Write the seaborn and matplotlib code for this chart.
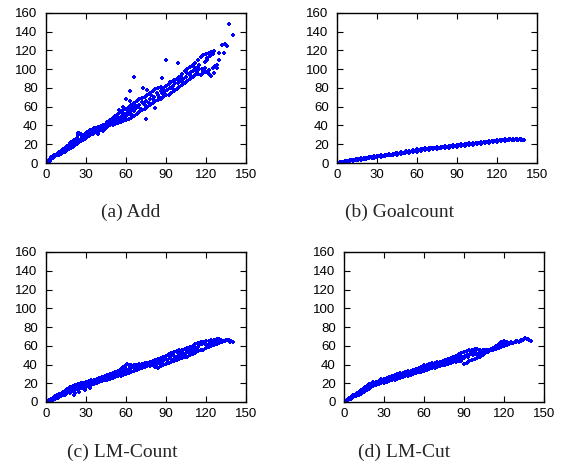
import pandas as pd
import matplotlib
matplotlib.use("Agg")
import matplotlib.pyplot as plt
import seaborn as sns

# Puntos (x, y) para cada heuristica
add_pts = [
    (0, 0), (1, 1), (1, 2), (2, 2), (2, 3), (3, 3), (3, 4), (4, 4), (4, 6), (5, 5), (5, 7),
    (6, 6), (6, 8), (7, 7), (7, 9), (8, 8), (8, 10), (9, 8), (9, 11), (10, 9), (10, 12),
    (11, 10), (11, 13), (12, 11), (12, 14), (13, 12), (13, 15), (14, 12), (14, 16), (15, 13),
    (15, 17), (16, 14), (16, 18), (17, 15), (17, 19), (18, 16), (18, 21), (19, 16), (19, 22),
    (20, 17), (20, 23),
    (21, 24), (22, 25), (23, 27), (24, 30), (25, 32), (26, 31), (24, 32), (27, 29), (28, 30),
    (29, 31), (30, 32), (21, 18), (22, 19), (23, 20), (24, 21), (25, 22), (26, 23), (27, 24),
    (28, 25), (29, 26), (30, 27), (22, 22), (26, 26), (29, 28),
    (31, 33), (32, 34), (33, 35), (34, 34), (35, 36), (36, 35), (37, 37), (38, 36), (39, 38),
    (40, 37), (41, 39), (42, 38), (43, 40), (44, 41), (45, 42), (31, 28), (32, 29), (33, 30),
    (34, 31), (35, 31), (36, 32), (37, 33), (38, 33), (39, 34), (40, 34), (41, 35), (42, 35),
    (43, 36), (44, 36), (45, 37), (35, 33), (40, 36), (44, 39),
    (46, 44), (48, 46), (50, 48), (52, 50), (54, 52), (56, 54), (58, 56), (60, 58), (62, 60),
    (64, 62), (46, 38), (48, 40), (50, 41), (52, 42), (54, 43), (56, 44), (58, 45), (60, 46),
    (62, 47), (64, 48), (47, 42), (49, 45), (51, 44), (53, 47), (55, 48), (57, 50), (59, 52),
    (61, 53), (63, 55), (65, 56), (52, 46), (56, 47), (60, 50), (64, 52), (55, 57), (58, 60),
    (60, 68), (63, 66), (66, 92), (63, 77),
    (66, 64), (68, 66), (70, 68), (72, 69), (74, 70), (76, 72), (78, 75), (80, 77), (82, 79),
    (84, 80), (86, 81), (88, 80), (90, 82), (66, 50), (68, 52), (70, 54), (72, 56), (74, 58),
    (76, 60), (78, 62), (80, 64), (82, 66), (84, 67), (86, 68), (88, 70), (90, 72), (67, 58),
    (70, 62), (73, 64), (75, 66), (78, 68), (81, 70), (84, 73), (87, 75), (89, 77), (73, 80),
    (82, 59), (75, 47), (87, 91), (90, 110), (99, 107), (76, 78),
    (92, 84), (94, 86), (96, 88), (98, 90), (100, 92), (102, 95), (104, 98), (106, 100),
    (108, 102), (110, 104), (112, 107), (114, 110), (92, 73), (94, 75), (96, 77), (98, 79),
    (100, 81), (102, 83), (104, 85), (106, 87), (108, 90), (110, 92), (112, 94), (114, 95),
    (95, 82), (99, 85), (103, 90), (107, 95), (111, 99), (115, 100), (93, 80), (101, 88),
    (109, 97), (113, 101),
    (116, 113), (118, 115), (120, 116), (122, 117), (124, 118), (126, 119), (116, 94),
    (118, 96), (120, 97), (122, 99), (124, 93), (126, 96), (128, 101), (127, 103), (125, 101),
    (130, 110), (130, 117), (133.5, 117), (132, 126), (134.5, 127), (136, 125), (137.5, 148),
    (140, 137), (128, 104), (119, 101), (121, 110),
]
add_extra = [
    (3, 2), (5, 6), (7, 8), (9, 10), (11, 12), (13, 13), (15, 15), (17, 17), (19, 19),
    (21, 21), (23, 23), (25, 25), (27, 27), (18, 19), (14, 14), (10, 11), (6, 7),
    (32, 31), (34, 33), (36, 37), (38, 35), (39, 31), (41, 37), (43, 34), (45, 39), (47, 45),
    (48, 43), (50, 45), (51, 47), (53, 44), (54, 49), (55, 45), (57, 53), (58, 48), (59, 50),
    (61, 56), (62, 52), (63, 58), (65, 59), (66, 55), (67, 62), (69, 60), (71, 58), (72, 65),
    (74, 62), (77, 64), (79, 72), (80, 68), (83, 75), (85, 70), (86, 77), (88, 74), (91, 78),
    (93, 86), (95, 79), (97, 85), (100, 86), (101, 93), (103, 86), (105, 92), (106, 96),
    (108, 94), (110, 98), (111, 102), (113, 97), (115, 105), (117, 100), (119, 108),
    (121, 112), (123, 114), (125, 116), (118, 98), (122, 95),
]

goalcount_pts = [
    (0, 0), (0, 0.5), (2, 0.5), (2, 1), (4, 1), (4, 1.5), (6, 1), (6, 2), (8, 1.5), (8, 2.5),
    (10, 2), (10, 3), (12, 2.5), (12, 3.5), (14, 3), (14, 4), (16, 3), (16, 4.5), (18, 3.5),
    (18, 5), (20, 4), (20, 5), (22, 4.5), (22, 5.5), (24, 5), (24, 6), (26, 5), (26, 6.5),
    (28, 5.5), (28, 7), (30, 6), (30, 7.5), (33, 6.5), (33, 8), (36, 7), (36, 9), (39, 8),
    (39, 9.5), (42, 8.5), (42, 10), (45, 9), (45, 11), (48, 10), (48, 11.5), (51, 10.5),
    (51, 12), (54, 11), (54, 13), (57, 11.5), (57, 13.5), (60, 12), (60, 14.5), (63, 13),
    (63, 15), (66, 13.5), (66, 15.5), (69, 14), (69, 16), (72, 14.5), (72, 16.5), (75, 15),
    (75, 17), (78, 15.5), (78, 17.5), (81, 16), (81, 18), (84, 16.5), (84, 18.5), (87, 17),
    (87, 19), (90, 17.5), (90, 19.5), (93, 18), (93, 20), (96, 18.5), (96, 20.5), (99, 19),
    (99, 21), (102, 19.5), (102, 21), (105, 20), (105, 21.5), (108, 20.5), (108, 22),
    (111, 21), (111, 22.5), (114, 21.5), (114, 23), (117, 22), (117, 23.5), (120, 22.5),
    (120, 24), (123, 23), (123, 25), (126, 23.5), (126, 25.5), (129, 24), (129, 25.5),
    (132, 24), (132, 26), (135, 24), (135, 25.5), (138, 24.5), (138, 25.5), (140, 24),
    (3, 1), (9, 2.5), (15, 3.5), (21, 4.5), (27, 6), (35, 7.5), (41, 9), (47, 10.5),
    (53, 12), (59, 13), (65, 14.5), (71, 15.5), (77, 16.5), (83, 17.5), (89, 18.5),
    (95, 19.5), (101, 20), (107, 21), (113, 22), (119, 23), (125, 24.5), (131, 25),
]
goalcount_extra = [
    (1, 0.5), (5, 1.5), (7, 2), (11, 3), (13, 3), (17, 4), (19, 4.5), (23, 5), (25, 6),
    (29, 6.5), (31, 7), (34, 7.5), (37, 8.5), (38, 8), (40, 9), (43, 9.5), (44, 10.5),
    (46, 10), (49, 11), (50, 11), (52, 12.5), (55, 12), (56, 13), (58, 13), (61, 13.5),
    (62, 14), (64, 14.5), (67, 15), (68, 15), (70, 15.5), (73, 16), (74, 16), (76, 16.5),
    (79, 17), (80, 17.5), (82, 17.5), (85, 18), (86, 18), (88, 18.5), (91, 19), (92, 19),
    (94, 19.5), (97, 20), (98, 20), (100, 20.5), (103, 20.5), (104, 21), (106, 21.5),
    (109, 21.5), (110, 22), (112, 22.5), (115, 22.5), (116, 23), (118, 23), (121, 23.5),
    (122, 24), (124, 24), (127, 24.5), (128, 25), (130, 25.5), (133, 25), (134, 25.5),
    (136, 25), (137, 25.5), (139, 24.5),
]

lmcount_pts = [
    (0, 0), (1, 1), (2, 1), (2, 2), (3, 2), (4, 3), (4, 1), (5, 4), (5, 2), (6, 5), (6, 3),
    (7, 6), (7, 3), (8, 7), (8, 4), (9, 8), (9, 4), (10, 9), (10, 5), (11, 9), (11, 6),
    (12, 10), (12, 7), (13, 11), (13, 7), (14, 12), (14, 8), (15, 13), (15, 9), (16, 14),
    (16, 10), (17, 15), (17, 11), (18, 16), (18, 12), (19, 16), (19, 13), (20, 17), (20, 14),
    (21, 8), (22, 10), (20, 12), (18, 10),
    (22, 18), (24, 19), (26, 20), (28, 20), (30, 21), (32, 22), (34, 23), (36, 24), (38, 25),
    (40, 26), (42, 27), (44, 28), (22, 13), (24, 14), (26, 15), (28, 16), (30, 16), (32, 17),
    (34, 18), (36, 19), (38, 20), (40, 21), (42, 22), (44, 23), (23, 16), (27, 18), (31, 19),
    (35, 21), (39, 23), (43, 25), (25, 11), (29, 13), (33, 15),
    (46, 29), (48, 30), (50, 31), (52, 32), (54, 33), (56, 35), (58, 37), (60, 39), (61, 41),
    (62, 40), (64, 39), (66, 40), (68, 40), (70, 41), (72, 41), (74, 42), (76, 42), (78, 43),
    (80, 44), (82, 45), (84, 46), (86, 47), (88, 48), (90, 49), (46, 24), (48, 25), (50, 26),
    (52, 27), (54, 28), (56, 28), (58, 29), (60, 30), (62, 31), (64, 32), (66, 33), (68, 34),
    (70, 35), (72, 36), (74, 37), (76, 38), (78, 38), (80, 39), (82, 37), (84, 36), (86, 38),
    (88, 40), (90, 41), (47, 27), (51, 29), (55, 31), (59, 33), (63, 35), (67, 36), (71, 38),
    (75, 39), (79, 41), (83, 41), (87, 43), (53, 30), (57, 34), (65, 37), (69, 38),
    (92, 51), (94, 52), (96, 53), (98, 54), (100, 55), (102, 56), (104, 57), (106, 58),
    (108, 59), (110, 60), (112, 62), (114, 63), (116, 64), (118, 64), (120, 65), (122, 65),
    (124, 66), (126, 66), (128, 67), (130, 67), (92, 42), (94, 43), (96, 44), (98, 45),
    (100, 46), (102, 47), (104, 48), (106, 48), (108, 50), (110, 51), (112, 52), (114, 54),
    (116, 55), (118, 56), (120, 58), (122, 59), (124, 60), (126, 61), (128, 62), (130, 63),
    (132, 64), (134, 65), (136, 66), (138, 64), (140, 64), (93, 47), (97, 48), (101, 50),
    (105, 52), (109, 54), (113, 57), (95, 45), (99, 49), (103, 51), (107, 53), (111, 55),
]
lmcount_extra = [
    (3, 1), (5, 3), (7, 5), (9, 6), (11, 8), (13, 9), (15, 11), (17, 13), (19, 15), (21, 15),
    (23, 14), (24, 17), (26, 17), (27, 15), (29, 19), (30, 18), (31, 17), (33, 20), (34, 20),
    (36, 22), (37, 20), (39, 24), (41, 23), (42, 25), (45, 26), (47, 29), (49, 27), (50, 29),
    (52, 29), (54, 31), (55, 33), (57, 30), (58, 32), (60, 35), (61, 34), (63, 37), (64, 38),
    (66, 36), (67, 39), (69, 37), (70, 39), (72, 38), (73, 40), (75, 41), (77, 40), (78, 39),
    (80, 41), (81, 43), (83, 44), (85, 42), (86, 45), (88, 44), (89, 46), (91, 45), (93, 49),
    (95, 50), (97, 46), (99, 52), (100, 49), (102, 53), (104, 51), (106, 55), (108, 56),
    (110, 57), (112, 58), (114, 59), (115, 61), (117, 62), (119, 62), (121, 61), (123, 63),
    (125, 64), (127, 65), (129, 65), (131, 66), (133, 65), (135, 66), (137, 66), (139, 65),
]

lmcut_pts = [
    (0, 0), (1, 1), (2, 2), (3, 3), (4, 4), (5, 5), (6, 6), (7, 7), (8, 8), (9, 9), (10, 10),
    (11, 11), (12, 12), (13, 13), (14, 14), (15, 15), (16, 16), (17, 17), (18, 18), (19, 19),
    (20, 19), (3, 2), (5, 3), (7, 5), (9, 6), (11, 8), (13, 9), (15, 11), (17, 13), (19, 14),
    (12, 10), (16, 13), (18, 15), (20, 16), (22, 17),
    (22, 21), (24, 21), (26, 22), (28, 25), (30, 25), (32, 26), (34, 27), (36, 28), (38, 29),
    (40, 30), (42, 31), (44, 31), (46, 32), (48, 32), (50, 33), (52, 34), (54, 35), (56, 36),
    (58, 37), (60, 39), (24, 18), (26, 19), (28, 20), (30, 20), (32, 21), (34, 22), (36, 23),
    (38, 24), (40, 25), (42, 26), (44, 27), (46, 28), (48, 28), (50, 29), (52, 30), (54, 31),
    (56, 32), (58, 32), (60, 33), (25, 20), (29, 22), (33, 24), (37, 26), (41, 28), (45, 30),
    (49, 31), (53, 32), (57, 34), (31, 23), (35, 25), (39, 27), (43, 29), (47, 30), (51, 31),
    (55, 33), (59, 35),
    (62, 40), (64, 41), (66, 42), (68, 42), (70, 43), (72, 43), (74, 44), (76, 45), (78, 46),
    (80, 47), (82, 48), (84, 49), (86, 51), (88, 52), (90, 53), (92, 54), (94, 55), (96, 56),
    (98, 57), (100, 57), (62, 34), (64, 35), (66, 36), (68, 36), (70, 37), (72, 38), (74, 39),
    (76, 40), (78, 41), (80, 42), (82, 43), (84, 43), (86, 44), (88, 44), (90, 41), (92, 42),
    (94, 44), (96, 45), (98, 46), (100, 47), (63, 37), (67, 39), (71, 40), (75, 42), (79, 44),
    (83, 46), (87, 48), (91, 49), (95, 51), (99, 52), (65, 38), (69, 40), (73, 41), (77, 43),
    (81, 45), (85, 47), (89, 47), (93, 48), (97, 50),
    (102, 56), (104, 55), (106, 56), (108, 55), (110, 57), (112, 58), (114, 60), (116, 62),
    (118, 64), (120, 65), (122, 64), (102, 48), (104, 50), (106, 52), (108, 53), (110, 55),
    (112, 56), (114, 57), (116, 58), (118, 59), (120, 60), (122, 61), (124, 62), (126, 63),
    (128, 64), (130, 65), (132, 65), (134, 66), (136, 68), (137, 67), (138, 67), (140, 65),
    (101, 52), (105, 53), (109, 54), (113, 57), (117, 60), (121, 62), (125, 63), (129, 64),
    (133, 65), (103, 51), (107, 53),
]
lmcut_extra = [
    (2, 1), (4, 3), (6, 5), (8, 7), (10, 8), (12, 11), (14, 12), (16, 15), (18, 16), (20, 18),
    (21, 19), (23, 19), (24, 20), (26, 21), (27, 22), (28, 23), (30, 22), (31, 25), (33, 25),
    (34, 24), (36, 26), (37, 27), (39, 28), (40, 27), (42, 29), (44, 29), (45, 31), (47, 31),
    (48, 33), (50, 31), (52, 32), (53, 34), (55, 34), (56, 35), (58, 36), (60, 36), (61, 37),
    (63, 39), (64, 37), (66, 39), (68, 40), (70, 40), (71, 42), (73, 43), (75, 41), (76, 43),
    (78, 44), (80, 44), (82, 45), (84, 47), (85, 45), (87, 46), (88, 49), (90, 47), (92, 50),
    (94, 50), (95, 53), (97, 53), (99, 55), (100, 50), (102, 53), (103, 54), (105, 55),
    (107, 55), (109, 56), (111, 57), (113, 59), (115, 59), (117, 61), (119, 62), (121, 63),
    (123, 62), (125, 64), (127, 63), (129, 65), (131, 64), (133, 66), (135, 67), (139, 66),
]

captions = ["(a) Add", "(b) Goalcount", "(c) LM-Count", "(d) LM-Cut"]
x_ticks = [0, 30, 60, 90, 120, 150]
y_ticks = [0, 20, 40, 60, 80, 100, 120, 140, 160]

sns.set_style("ticks")
plt.rcParams["font.family"] = ["Liberation Sans", "DejaVu Sans"]

fig = plt.figure(figsize=(5.65, 4.69), dpi=100)

# posiciones de los ejes en pixeles: izquierda, arriba
W, H = 565, 469
boxes = [(46, 13), (337, 13), (46, 252), (344, 252)]
cap_pos = [(131, 212), (400, 212), (122, 452), (404, 452)]
panels = [add_pts + add_extra, goalcount_pts + goalcount_extra,
          lmcount_pts + lmcount_extra, lmcut_pts + lmcut_extra]

for pts, (lx, ty), cap, (cx, cy) in zip(panels, boxes, captions, cap_pos):
    ax = fig.add_axes([lx / W, 1 - (ty + 150) / H, 200 / W, 150 / H])
    df = pd.DataFrame(pts, columns=["x", "y"])
    sns.scatterplot(data=df, x="x", y="y", ax=ax, color="#0000ff", marker="P",
                    s=7, linewidth=0, legend=False)
    ax.set_xlim(0, 150)
    ax.set_ylim(0, 160)
    ax.set_xticks(x_ticks)
    ax.set_yticks(y_ticks)
    ax.set_xlabel("")
    ax.set_ylabel("")
    ax.tick_params(direction="in", length=4, width=0.8, top=True, right=True,
                   labelsize=9.5, colors="black")
    ax.tick_params(axis="y", pad=6)
    ax.tick_params(axis="x", pad=4)
    for sp in ax.spines.values():
        sp.set_visible(True)
        sp.set_linewidth(1.0)
        sp.set_color("black")
    fig.text(cx / W, 1 - cy / H, cap, ha="center", va="center",
             fontsize=14, family=["Liberation Serif", "DejaVu Serif"])

fig.savefig("out.png", dpi=100)
